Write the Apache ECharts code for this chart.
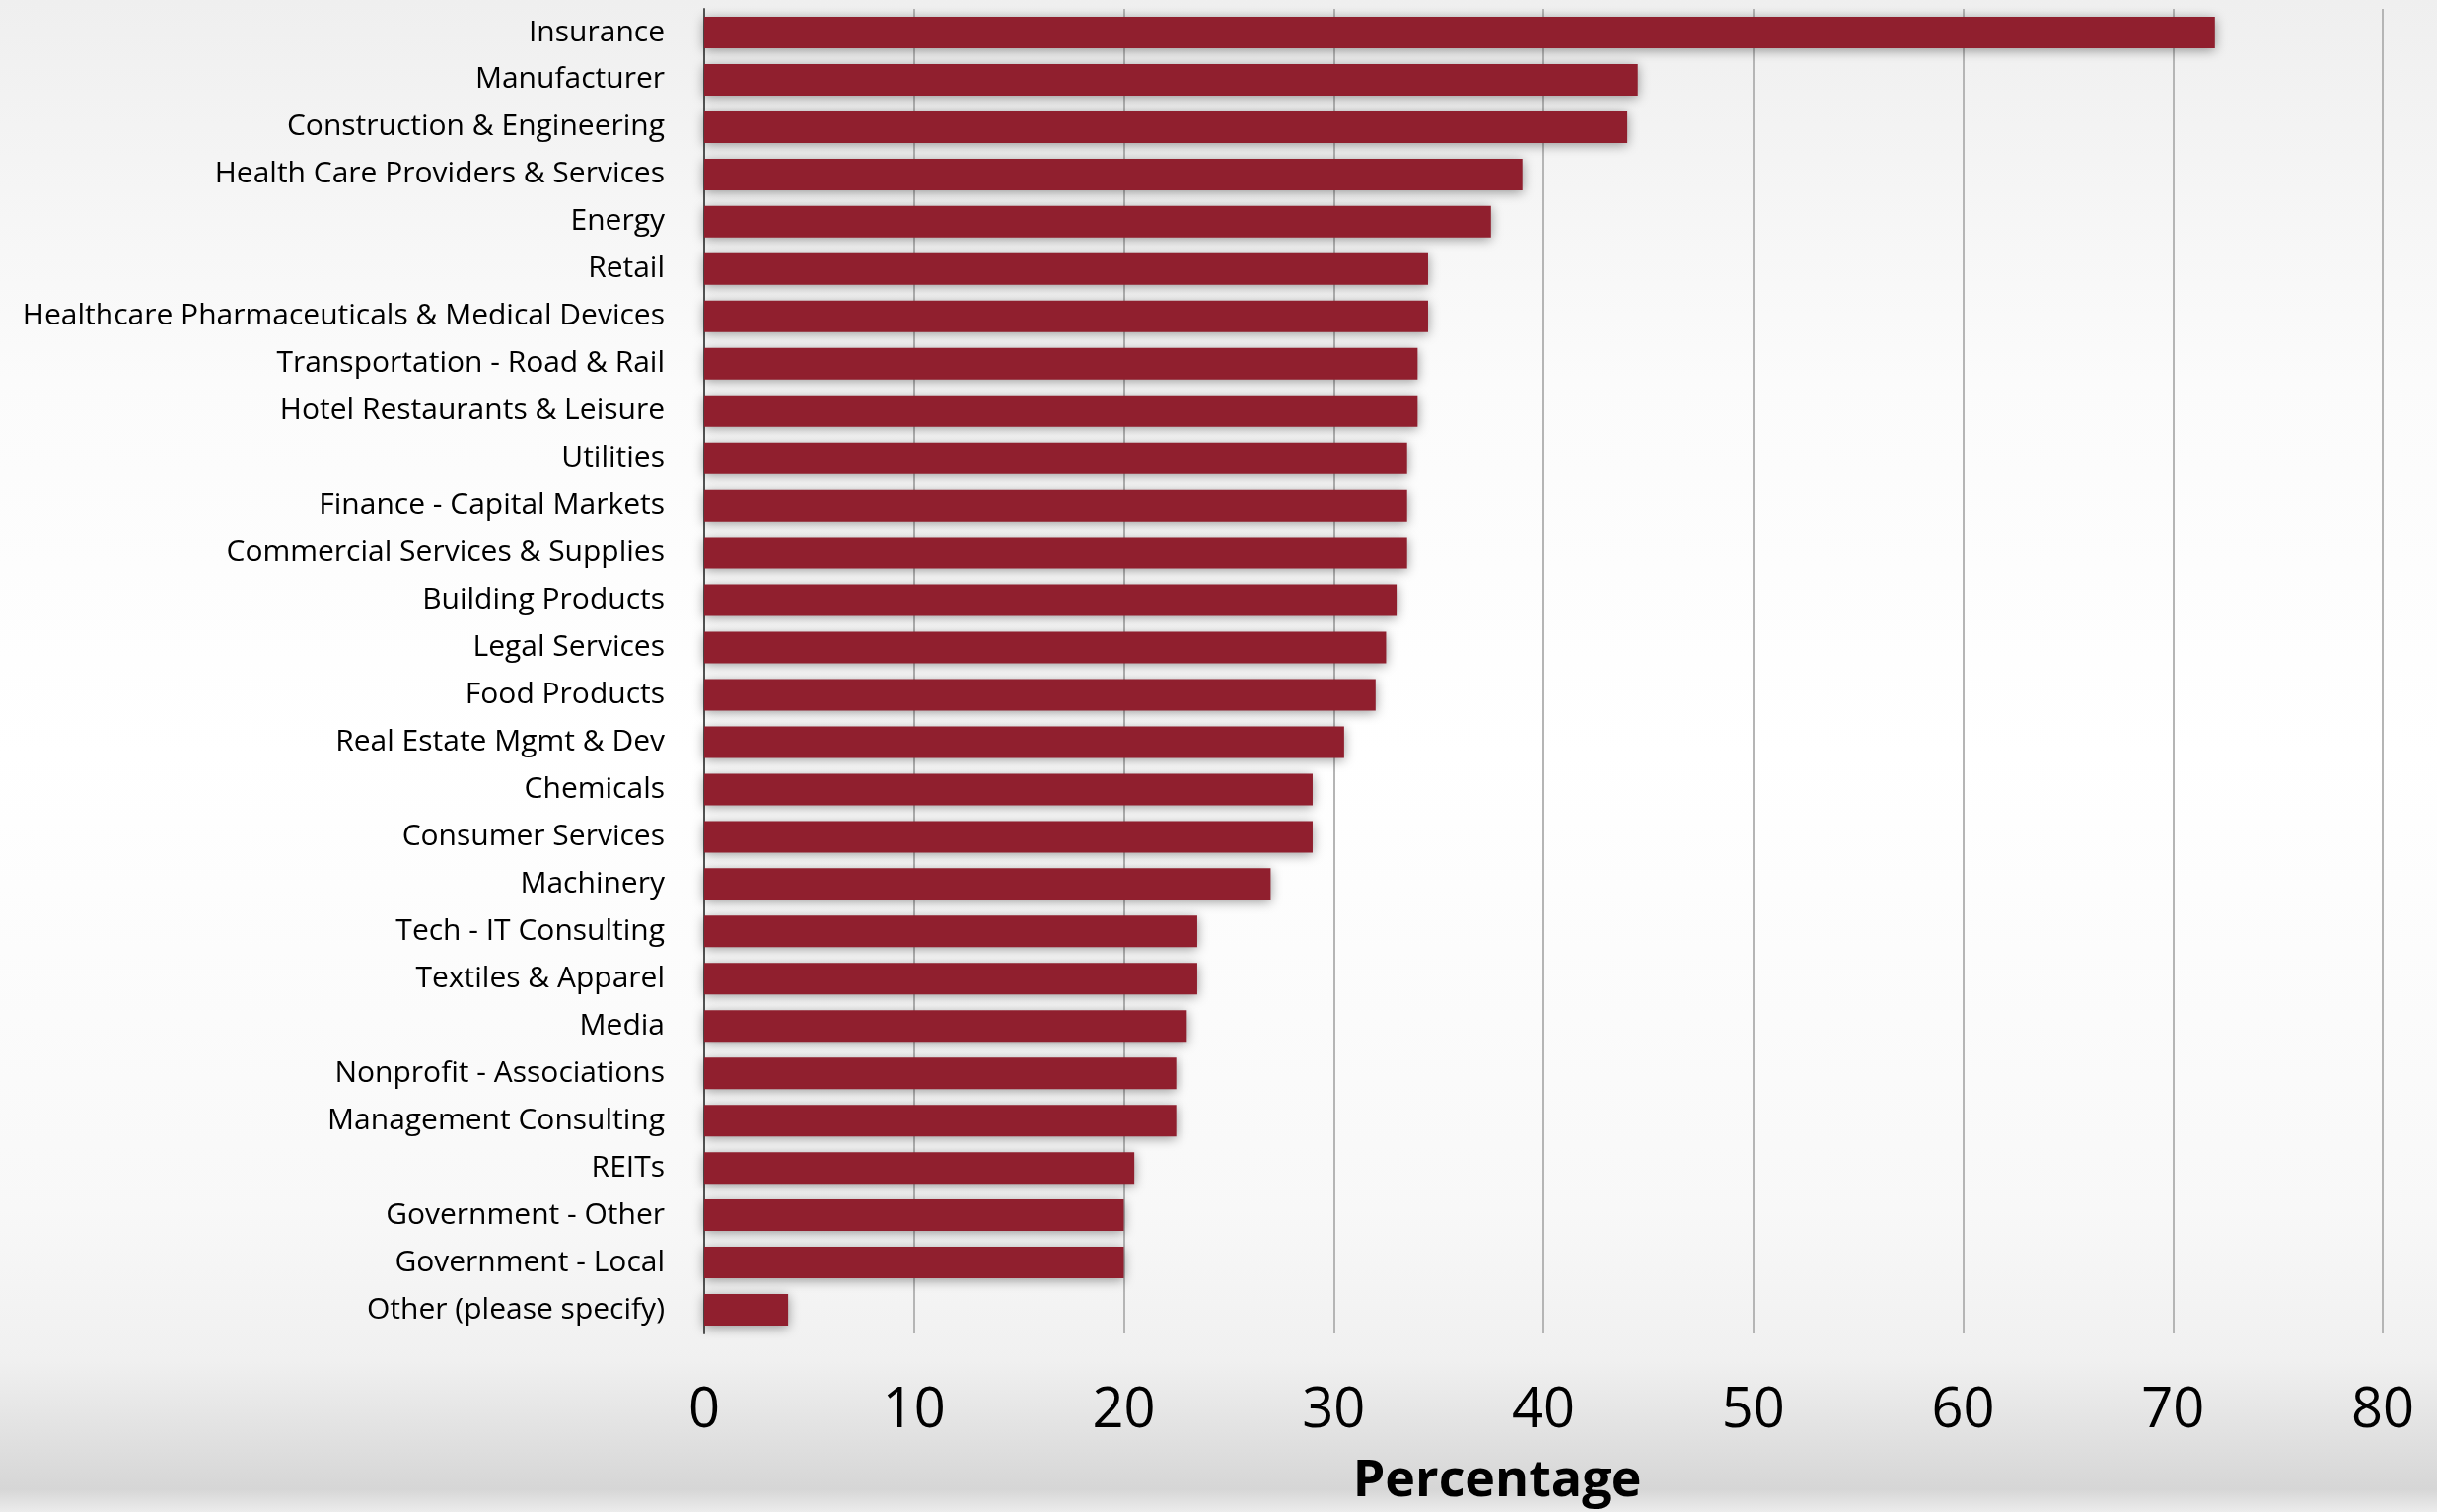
<!DOCTYPE html>
<html>
<head>
<meta charset="utf-8">
<script src="https://cdn.jsdelivr.net/npm/echarts@6/dist/echarts.min.js"></script>
<style>
html,body{margin:0;padding:0;}
#chart{width:2471px;height:1533px;}
</style>
</head>
<body>
<div id="chart"></div>
<script>
const categories = [
  "Insurance","Manufacturer","Construction & Engineering","Health Care Providers & Services",
  "Energy","Retail","Healthcare Pharmaceuticals & Medical Devices","Transportation - Road & Rail",
  "Hotel Restaurants & Leisure","Utilities","Finance - Capital Markets","Commercial Services & Supplies",
  "Building Products","Legal Services","Food Products","Real Estate Mgmt & Dev","Chemicals",
  "Consumer Services","Machinery","Tech - IT Consulting","Textiles & Apparel","Media",
  "Nonprofit - Associations","Management Consulting","REITs","Government - Other",
  "Government - Local","Other (please specify)"
];
const percentages = [
  72.0, 44.5, 44.0, 39.0, 37.5, 34.5, 34.5, 34.0, 34.0, 33.5, 33.5, 33.5, 33.0, 32.5,
  32.0, 30.5, 29.0, 29.0, 27.0, 23.5, 23.5, 23.0, 22.5, 22.5, 20.5, 20.0, 20.0, 4.0
];
const xTicks = [0, 10, 20, 30, 40, 50, 60, 70, 80];
const axisTitle = "Percentage";

const chart = echarts.init(document.getElementById('chart'));
chart.setOption({
  animation: false,
  backgroundColor: {
    type: 'linear', x: 0, y: 0, x2: 0, y2: 1,
    colorStops: [
      {offset: 0, color: '#efefef'},
      {offset: 0.25, color: '#fbfbfb'},
      {offset: 0.5, color: '#ffffff'},
      {offset: 0.8, color: '#f8f8f8'},
      {offset: 0.9, color: '#f0f0f0'},
      {offset: 0.985, color: '#d6d6d6'},
      {offset: 1, color: '#ececec'}
    ]
  },
  grid: {left: 714, right: 55, top: 9, bottom: 170, containLabel: false},
  xAxis: {
    type: 'value', min: xTicks[0], max: xTicks[xTicks.length - 1], interval: 10,
    axisLine: {show: false},
    axisTick: {show: false},
    splitLine: {show: true, lineStyle: {color: '#b5b5b5', width: 2}},
    axisLabel: {
      margin: 51, fontFamily: 'Open Sans', fontSize: 56, color: '#000'
    },
    name: axisTitle, nameLocation: 'middle', nameGap: 124,
    nameTextStyle: {
      fontFamily: 'Open Sans', fontWeight: 'bold', fontSize: 52, color: '#000',
      padding: [0, 94, 0, 0]
    }
  },
  yAxis: {
    type: 'category', data: categories, inverse: true,
    axisTick: {show: false},
    axisLine: {show: true, lineStyle: {color: '#555', width: 2}},
    axisLabel: {margin: 40, fontFamily: 'Open Sans', fontSize: 30, color: '#000'}
  },
  series: [{
    type: 'bar', data: percentages, barWidth: 32,
    itemStyle: {
      color: '#901f2e',
      shadowColor: 'rgba(0,0,0,0.4)', shadowBlur: 12, shadowOffsetY: 2
    }
  }]
});
</script>
</body>
</html>
